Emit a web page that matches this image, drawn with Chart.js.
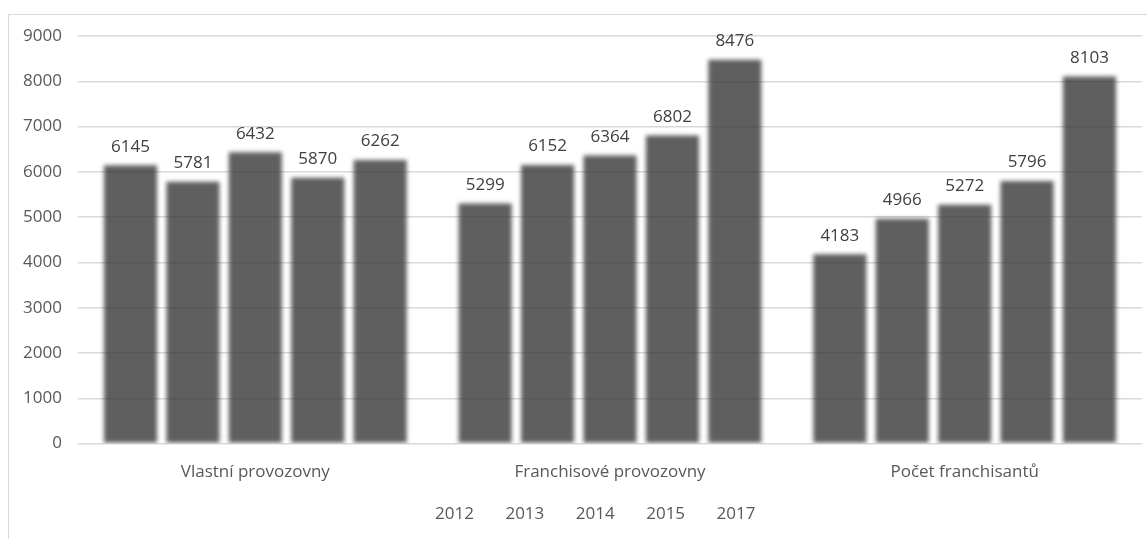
<!DOCTYPE html>
<html lang="cs">
<head>
<meta charset="utf-8">
<title>Provozovny a franchisanti</title>
<script src="https://cdn.jsdelivr.net/npm/chart.js@4/dist/chart.umd.min.js"></script>
<style>
    html, body { margin: 0; padding: 0; background: #fff; overflow: hidden; }
    #frame {
        position: absolute;
        left: 8px;
        top: 14px;
        width: 1155px;
        height: 540px;
        border-left: 1px solid #d9d9d9;
        border-top: 1px solid #d9d9d9;
    }
</style>
</head>
<body>
<div id="frame"><canvas id="barChart"></canvas></div>
<script>
// Categories and yearly values
const categories = ['Vlastní provozovny', 'Franchisové provozovny', 'Počet franchisantů'];
const years = ['2012', '2013', '2014', '2015', '2017'];
const values2012 = [6145, 5299, 4183];
const values2013 = [5781, 6152, 4966];
const values2014 = [6432, 6364, 5272];
const values2015 = [5870, 6802, 5796];
const values2017 = [6262, 8476, 8103];
const yTicks = [0, 1000, 2000, 3000, 4000, 5000, 6000, 7000, 8000, 9000];

const seriesValues = [values2012, values2013, values2014, values2015, values2017];

const FONT = '"Open Sans", sans-serif';
const FONT_SIZE = 17;
const BAR_COLOR = 'rgba(52, 52, 52, 0.79)';

// Soft bar edges plus value labels on top of each bar
const barLabels = {
    id: 'barLabels',
    beforeDatasetsDraw(chart) {
        chart.ctx.save();
        chart.ctx.filter = 'blur(2px)';
    },
    afterDatasetsDraw(chart) {
        const ctx = chart.ctx;
        ctx.restore();
        ctx.save();
        ctx.font = FONT_SIZE + 'px ' + FONT;
        ctx.fillStyle = '#404040';
        ctx.textAlign = 'center';
        ctx.textBaseline = 'bottom';
        chart.data.datasets.forEach((ds, i) => {
            chart.getDatasetMeta(i).data.forEach((bar, j) => {
                ctx.fillText(String(ds.data[j]), bar.x, bar.y - 10);
            });
        });
        ctx.restore();
    }
};

function initChart() {
    const ctx = document.getElementById('barChart');

    new Chart(ctx, {
        type: 'bar',
        data: {
            labels: categories,
            datasets: years.map((year, i) => ({
                label: year,
                data: seriesValues[i],
                backgroundColor: BAR_COLOR,
                borderWidth: 0,
                categoryPercentage: 0.88,
                barPercentage: 0.85
            }))
        },
        options: {
            responsive: true,
            maintainAspectRatio: false,
            animation: false,
            layout: {
                padding: { top: 21, left: 0, right: 0, bottom: 22 }
            },
            scales: {
                x: {
                    grid: { display: false },
                    border: { display: false },
                    ticks: {
                        color: '#595959',
                        padding: 10,
                        font: { size: FONT_SIZE, family: FONT }
                    }
                },
                y: {
                    min: 0,
                    max: 9000,
                    afterFit(scale) {
                        scale.width = 69;
                        scale.paddingTop = 0;
                        scale.paddingBottom = 0;
                    },
                    afterBuildTicks(scale) {
                        scale.ticks = yTicks.map(v => ({ value: v }));
                    },
                    border: { display: false },
                    grid: {
                        color: '#d9d9d9',
                        lineWidth: 1.5,
                        drawTicks: false
                    },
                    ticks: {
                        color: '#595959',
                        padding: 16,
                        font: { size: FONT_SIZE, family: FONT },
                        callback: value => String(value)
                    }
                },
                // empty right-hand margin of the plot
                yRight: {
                    position: 'right',
                    grid: { display: false },
                    border: { display: false },
                    ticks: { display: false },
                    afterFit(scale) { scale.width = 22; }
                }
            },
            plugins: {
                legend: {
                    position: 'bottom',
                    labels: {
                        color: '#595959',
                        boxWidth: 9,
                        boxHeight: 0,
                        padding: 14,
                        font: { size: FONT_SIZE, family: FONT },
                        generateLabels(chart) {
                            return chart.data.datasets.map((ds, i) => ({
                                text: ds.label,
                                fillStyle: 'transparent',
                                strokeStyle: 'transparent',
                                lineWidth: 0,
                                fontColor: '#595959',
                                datasetIndex: i
                            }));
                        }
                    }
                },
                tooltip: { enabled: false }
            }
        },
        plugins: [barLabels]
    });
}

initChart();
</script>
</body>
</html>
